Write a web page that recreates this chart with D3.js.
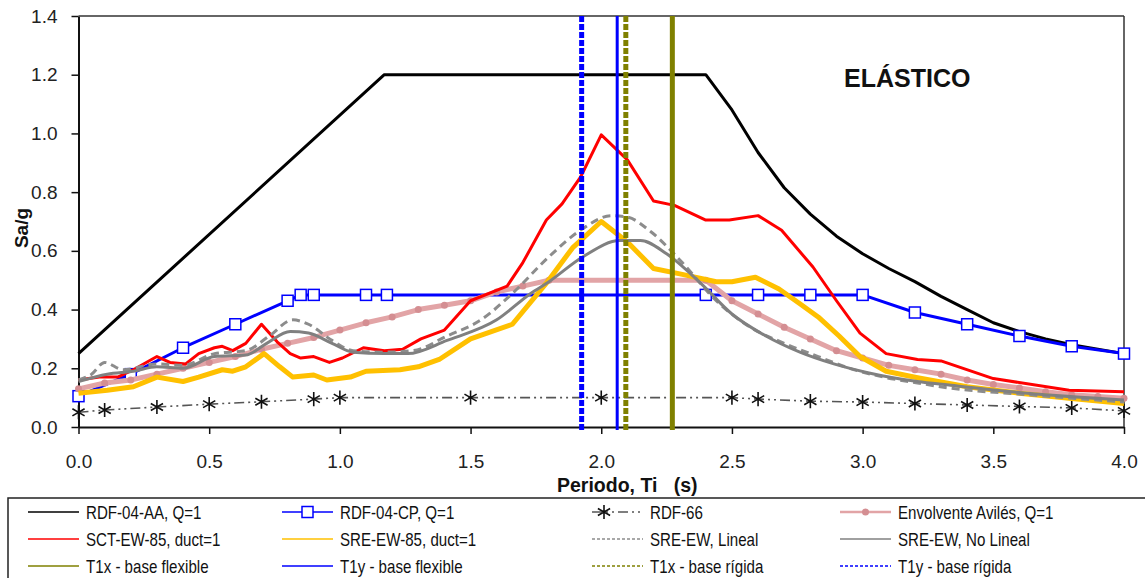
<!DOCTYPE html>
<html>
<head>
<meta charset="utf-8">
<script src="https://cdn.jsdelivr.net/npm/d3@7"></script>
<style>
body { margin: 0; background: #fff; }
svg { display: block; font-family: "Liberation Sans", Arial, sans-serif; }
</style>
</head>
<body>
<svg id="chart" width="1145" height="578"></svg>
<script>
// spectra: period T (s) and Sa/g
let aaT  = [0, 1.17, 2.4, 2.5, 2.6, 2.7, 2.8, 2.9, 3.0, 3.1, 3.2, 3.3, 3.4, 3.5, 3.6, 3.7, 3.8, 3.9, 4.0]
let aaSa = [0.25, 1.2, 1.2, 1.08, 0.935, 0.815, 0.725, 0.65, 0.59, 0.54, 0.495, 0.445, 0.40, 0.355, 0.325, 0.30, 0.28, 0.265, 0.25]

let cpT  = [0, 0.2, 0.4, 0.6, 0.8, 0.85, 0.9, 1.1, 1.18, 2.4, 2.6, 2.8, 3.0, 3.2, 3.4, 3.6, 3.8, 4.0]
let cpSa = [0.105, 0.18, 0.27, 0.35, 0.43, 0.45, 0.45, 0.45, 0.45, 0.45, 0.45, 0.45, 0.45, 0.39, 0.35, 0.31, 0.275, 0.25]

let r66T  = [0, 0.1, 0.3, 0.5, 0.7, 0.9, 1.0, 1.5, 2.0, 2.5, 2.6, 2.8, 3.0, 3.2, 3.4, 3.6, 3.8, 4.0]
let r66Sa = [0.05, 0.058, 0.068, 0.078, 0.086, 0.095, 0.10, 0.10, 0.10, 0.10, 0.095, 0.088, 0.085, 0.08, 0.075, 0.07, 0.065, 0.055]

let avT  = [0, 0.1, 0.2, 0.3, 0.4, 0.5, 0.6, 0.7, 0.8, 0.9, 1.0, 1.1, 1.2, 1.3, 1.4, 1.5, 1.6, 1.7, 1.8,
            2.4, 2.5, 2.6, 2.7, 2.8, 2.9, 3.0, 3.1, 3.2, 3.3, 3.4, 3.5, 3.6, 3.7, 3.8, 3.9, 4.0]
let avSa = [0.13, 0.15, 0.16, 0.18, 0.20, 0.22, 0.24, 0.265, 0.285, 0.305, 0.33, 0.355, 0.375, 0.40, 0.415, 0.43, 0.46, 0.48, 0.50,
            0.50, 0.43, 0.385, 0.34, 0.30, 0.26, 0.235, 0.21, 0.195, 0.18, 0.16, 0.145, 0.133, 0.12, 0.11, 0.104, 0.098]

let sctT  = [0, 0.08, 0.15, 0.21, 0.30, 0.35, 0.41, 0.46, 0.52, 0.55, 0.59, 0.64, 0.70, 0.76, 0.81, 0.85, 0.90, 0.96, 1.01,
             1.09, 1.17, 1.24, 1.31, 1.40, 1.50, 1.64, 1.70, 1.79, 1.85, 1.92, 2.0, 2.10, 2.20, 2.28, 2.40, 2.49, 2.60,
             2.69, 2.81, 2.90, 2.99, 3.09, 3.21, 3.30, 3.50, 3.79, 4.0]
let sctSa = [0.16, 0.17, 0.17, 0.195, 0.24, 0.22, 0.215, 0.25, 0.27, 0.275, 0.26, 0.285, 0.35, 0.29, 0.25, 0.235, 0.24, 0.22, 0.235,
             0.27, 0.26, 0.265, 0.30, 0.33, 0.43, 0.48, 0.56, 0.705, 0.76, 0.85, 0.995, 0.91, 0.77, 0.755, 0.705, 0.705, 0.72,
             0.67, 0.545, 0.43, 0.32, 0.25, 0.23, 0.225, 0.165, 0.125, 0.12]

let sreT  = [0, 0.11, 0.21, 0.30, 0.40, 0.46, 0.55, 0.59, 0.64, 0.71, 0.77, 0.82, 0.90, 0.95, 1.04, 1.10, 1.23, 1.30, 1.38,
             1.50, 1.66, 1.79, 1.89, 2.0, 2.10, 2.20, 2.31, 2.44, 2.50, 2.59, 2.68, 2.76, 2.83, 2.91, 2.99, 3.09, 3.21,
             3.40, 3.60, 3.79, 4.0]
let sreSa = [0.115, 0.125, 0.137, 0.17, 0.155, 0.17, 0.195, 0.19, 0.205, 0.25, 0.205, 0.17, 0.177, 0.16, 0.17, 0.19, 0.195, 0.205, 0.23,
             0.30, 0.35, 0.49, 0.61, 0.70, 0.63, 0.54, 0.52, 0.495, 0.495, 0.51, 0.47, 0.42, 0.375, 0.31, 0.24, 0.19, 0.168,
             0.137, 0.115, 0.098, 0.08]

let linT  = [0, 0.05, 0.1, 0.17, 0.3, 0.4, 0.52, 0.64, 0.73, 0.82, 0.88, 0.97, 1.05, 1.17, 1.28, 1.41, 1.54, 1.66, 1.80,
             1.92, 2.04, 2.10, 2.19, 2.31, 2.44, 2.57, 2.70, 2.83, 2.95, 3.08, 3.21, 3.33, 3.63, 4.0]
let linSa = [0.16, 0.18, 0.22, 0.195, 0.215, 0.21, 0.25, 0.26, 0.31, 0.365, 0.35, 0.295, 0.26, 0.255, 0.26, 0.31, 0.365, 0.455, 0.58,
             0.67, 0.72, 0.715, 0.665, 0.56, 0.43, 0.34, 0.285, 0.24, 0.20, 0.17, 0.15, 0.133, 0.11, 0.085]

let nlT  = [0, 0.11, 0.21, 0.30, 0.40, 0.52, 0.64, 0.72, 0.81, 0.88, 0.97, 1.05, 1.17, 1.26, 1.41, 1.60, 1.73, 1.80,
            1.93, 2.07, 2.15, 2.25, 2.38, 2.50, 2.63, 2.76, 2.89, 3.02, 3.21, 3.33, 3.63, 4.0]
let nlSa = [0.155, 0.18, 0.19, 0.205, 0.20, 0.24, 0.245, 0.285, 0.325, 0.32, 0.285, 0.255, 0.25, 0.25, 0.295, 0.365, 0.455, 0.495,
            0.58, 0.635, 0.635, 0.59, 0.49, 0.385, 0.31, 0.255, 0.215, 0.185, 0.155, 0.143, 0.115, 0.092]

// fundamental periods (vertical lines)
let periodNames = ["T1x - base flexible", "T1y - base flexible", "T1x - base rígida", "T1y - base rígida"]
let periodT = [2.272, 2.061, 2.094, 1.925]

let legendNames = ["RDF-04-AA, Q=1", "RDF-04-CP, Q=1", "RDF-66", "Envolvente Avilés, Q=1",
                   "SCT-EW-85, duct=1", "SRE-EW-85, duct=1", "SRE-EW, Lineal", "SRE-EW, No Lineal"]

let xTicks = [0, 0.5, 1.0, 1.5, 2.0, 2.5, 3.0, 3.5, 4.0]
let yTicks = [0, 0.2, 0.4, 0.6, 0.8, 1.0, 1.2, 1.4]

let svg = d3.select("#chart")
svg.append("rect").attr("width", 1145).attr("height", 578).attr("fill", "#fff")

let x = d3.scaleLinear().domain([0, 4]).range([78.5, 1124])
let y = d3.scaleLinear().domain([0, 1.4]).range([427, 16])

let zip = (ts, vs) => ts.map((t, i) => [t, vs[i]])

let series = [
    {name: legendNames[0], data: zip(aaT, aaSa), color: "#000", width: 3},
    {name: legendNames[1], data: zip(cpT, cpSa), color: "#0000ff", width: 3, marker: "square"},
    {name: legendNames[2], data: zip(r66T, r66Sa), color: "#555", width: 1.6, dash: "10,4,2,4,2,4", marker: "star"},
    {name: legendNames[3], data: zip(avT, avSa), color: "#e2a4a6", width: 5, marker: "dot"},
    {name: legendNames[4], data: zip(sctT, sctSa), color: "#ff0000", width: 3},
    {name: legendNames[5], data: zip(sreT, sreSa), color: "#ffc000", width: 5},
    {name: legendNames[6], data: zip(linT, linSa), color: "#8c8c8c", width: 3, dash: "8,5", smooth: true},
    {name: legendNames[7], data: zip(nlT, nlSa), color: "#808080", width: 3, smooth: true}
]

let periods = [
    {name: periodNames[0], t: periodT[0], color: "#7f8000", width: 5},
    {name: periodNames[1], t: periodT[1], color: "#0000ff", width: 3},
    {name: periodNames[2], t: periodT[2], color: "#7f8000", width: 5, dash: "6,2"},
    {name: periodNames[3], t: periodT[3], color: "#0000ff", width: 5, dash: "6,2"}
]

// axes
svg.append("g")
    .attr("transform", "translate(78.5,0)")
    .call(d3.axisLeft(y).tickValues(yTicks).tickFormat(d3.format(".1f")).tickSize(7).tickSizeOuter(0).tickPadding(14))
svg.append("g")
    .attr("transform", "translate(0,427)")
    .call(d3.axisBottom(x).tickValues(xTicks).tickFormat(d3.format(".1f")).tickSize(7).tickSizeOuter(0).tickPadding(21))

svg.selectAll(".domain").attr("stroke", "#111").attr("stroke-width", 2)
svg.selectAll(".tick line").attr("stroke", "#111").attr("stroke-width", 1.5)
svg.selectAll(".tick text").attr("font-size", 19).attr("fill", "#222")
    .attr("font-family", "'Liberation Sans', Arial, sans-serif")

// frame top / right
svg.append("line").attr("x1", x(0)).attr("x2", x(4)).attr("y1", y(1.4)).attr("y2", y(1.4))
    .attr("stroke", "#333").attr("stroke-width", 1.5)
svg.append("line").attr("x1", x(4)).attr("x2", x(4)).attr("y1", y(1.4)).attr("y2", y(0))
    .attr("stroke", "#333").attr("stroke-width", 1.5)

let line = d3.line().x(d => x(d[0])).y(d => y(d[1]))
let smoothLine = d3.line().x(d => x(d[0])).y(d => y(d[1])).curve(d3.curveMonotoneX)
let star = d3.symbol().type(d3.symbolAsterisk).size(140)

function drawMarkers(g, s, pts)
{
    if (s.marker == "square") {
        g.selectAll("rect.mk").data(pts).join("rect").attr("class", "mk")
            .attr("x", d => d[0] - 5.5).attr("y", d => d[1] - 5.5)
            .attr("width", 11).attr("height", 11)
            .attr("fill", "#fff").attr("stroke", "#0000ff").attr("stroke-width", 1.5)
    } else if (s.marker == "star") {
        g.selectAll("path.mk").data(pts).join("path").attr("class", "mk")
            .attr("d", star).attr("transform", d => "translate(" + d[0] + "," + d[1] + ")")
            .attr("fill", "none").attr("stroke", "#111").attr("stroke-width", 1.6)
    } else if (s.marker == "dot") {
        g.selectAll("circle.mk").data(pts).join("circle").attr("class", "mk")
            .attr("cx", d => d[0]).attr("cy", d => d[1]).attr("r", 3.5)
            .attr("fill", "#d48e92")
    }
}

series.forEach(s => {
    let g = svg.append("g")
    g.append("path").attr("d", (s.smooth ? smoothLine : line)(s.data))
        .attr("fill", "none").attr("stroke", s.color).attr("stroke-width", s.width)
        .attr("stroke-dasharray", s.dash || null).attr("stroke-linejoin", "round")
    if (s.marker) drawMarkers(g, s, s.data.map(d => [x(d[0]), y(d[1])]))
})

periods.forEach(p => {
    svg.append("line")
        .attr("x1", x(p.t)).attr("x2", x(p.t)).attr("y1", y(1.4)).attr("y2", y(0) + 3)
        .attr("stroke", p.color).attr("stroke-width", p.width)
        .attr("stroke-dasharray", p.dash || null)
})

svg.append("text").attr("x", 844).attr("y", 87)
    .attr("font-size", 25).attr("font-weight", "bold").attr("fill", "#111")
    .text("ELÁSTICO")

svg.append("text").attr("transform", "translate(28,228) rotate(-90)")
    .attr("text-anchor", "middle").attr("font-size", 19).attr("font-weight", "bold").attr("fill", "#111")
    .text("Sa/g")

svg.append("text").attr("x", 557).attr("y", 492)
    .attr("font-size", 19.5).attr("font-weight", "bold").attr("fill", "#111")
    .style("white-space", "pre")
    .text("Periodo, Ti   (s)")

// legend
svg.append("rect").attr("x", 8).attr("y", 498).attr("width", 1145).attr("height", 90)
    .attr("fill", "#fff").attr("stroke", "#222").attr("stroke-width", 1.5)

let colX = [28, 282, 592, 840]
let rowY = [512, 539, 566]
let items = series.map(s => Object.assign({}, s, {width: Math.min(s.width, 1.6)}))
    .concat(periods.map(p => ({name: p.name, color: p.color, width: 1.6, dash: p.dash ? "3,2" : null})))
items[6].dash = "3,2"
items[3].width = 2.5

items.forEach((it, i) => {
    let cx = colX[i % 4], cy = rowY[Math.floor(i / 4)]
    let g = svg.append("g")
    g.append("line").attr("x1", cx).attr("x2", cx + 51).attr("y1", cy).attr("y2", cy)
        .attr("stroke", it.color).attr("stroke-width", it.width)
        .attr("stroke-dasharray", it.dash || null)
    if (it.marker) {
        let mx = it.marker == "star" ? cx + 12 : cx + 25.5
        drawMarkers(g, it, [[mx, cy]])
    }
    // legend font in the original is condensed
    g.append("text").attr("transform", "translate(" + (cx + 58) + "," + (cy + 6.5) + ") scale(0.84,1)")
        .attr("font-size", 18).attr("fill", "#111")
        .text(it.name)
})
</script>
</body>
</html>
